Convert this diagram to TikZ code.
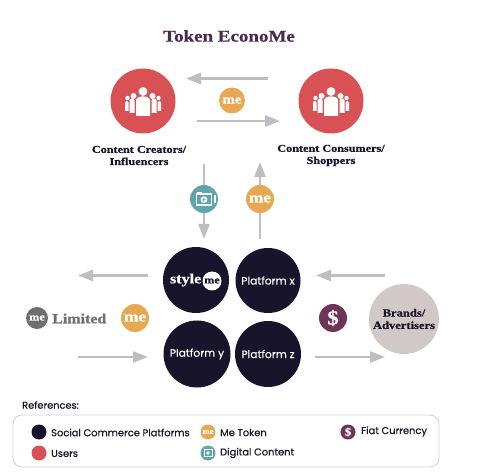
\documentclass[tikz,border=0pt]{standalone}
\usepackage{fontspec}
\setmainfont{Liberation Serif}
\newfontfamily\psans[FakeBold=0.35]{Poppins}
\newfontfamily\fatf[UprightFont=* Bold,FakeStretch=1.15,FakeBold=0.6]{Liberation Serif}
\usetikzlibrary{arrows.meta}
\definecolor{navy}{HTML}{17142B}
\definecolor{redc}{HTML}{D85155}
\definecolor{gold}{HTML}{E6A853}
\definecolor{plum}{HTML}{6E3559}
\definecolor{teal2}{HTML}{5FA5AE}
\definecolor{arrowg}{HTML}{BDBEC4}
\definecolor{beige}{HTML}{D1C8C8}
\definecolor{greyc}{HTML}{6F6E73}
\definecolor{titlec}{HTML}{4A2A4E}
\tikzset{
  x=1pt,y=-1pt,
  dot/.style={circle,inner sep=0pt,minimum size=#1},
  flow/.style={draw=arrowg,line width=2.6pt,-{Triangle[length=15pt,width=11pt]}},
  fat/.style={font=\fatf\fontsize{#1}{#1}\selectfont,text=navy,align=center,inner sep=0pt},
  fat/.default=10.6,
  sanslab/.style={font=\psans\fontsize{#1}{#1}\selectfont,inner sep=0pt},
  leg/.style={font=\psans\fontsize{9.9}{11}\selectfont,text=navy,anchor=west,inner sep=0pt},
  metext/.style={font=\fatf\fontsize{#1}{#1}\selectfont,text=white,inner sep=0pt},
  people/.pic={
    \fill[white] (-18,9.5) -- (-18,1) .. controls (-18,-1.5) and (-14.5,-1.5) .. (-14.5,1) -- (-14.5,9.5) -- cycle;
    \fill[white] (18,9.5) -- (18,1) .. controls (18,-1.5) and (14.5,-1.5) .. (14.5,1) -- (14.5,9.5) -- cycle;
    \fill[white] (-15.5,-3.5) circle (2.2);
    \fill[white] (15.5,-3.5) circle (2.2);
    \fill[white] (-13.5,11.5) -- (-13.5,-1) .. controls (-13.5,-3.5) and (-9,-3.5) .. (-8.5,-1) -- (-8.5,11.5) -- cycle;
    \fill[white] (13.5,11.5) -- (13.5,-1) .. controls (13.5,-3.5) and (9,-3.5) .. (8.5,-1) -- (8.5,11.5) -- cycle;
    \fill[white] (-9.5,-5.5) circle (3);
    \fill[white] (9.5,-5.5) circle (3);
    \fill[white] (-7,14.5) -- (-7,-1) .. controls (-7,-6.5) and (7,-6.5) .. (7,-1) -- (7,14.5) -- cycle;
    \fill[white] (0,-10) circle (4.4);
  },
  camera/.pic={
    \draw[white,line width=1.2pt] (-7.5,-5) rectangle (7.5,6);
    \fill[white] (-7.5,-6.5) rectangle (-2,-5);
    \fill[white] (0,0.7) circle (3.4);
    \fill[teal2] (-1.2,-1) -- (1.6,0.7) -- (-1.2,2.4) -- cycle;
    \fill[white] (9.7,-3.5) rectangle (12,4.5);
  }
}
\begin{document}
\begin{tikzpicture}
\useasboundingbox (0,0) rectangle (485,473);
\fill[white] (0,0) rectangle (485,473);
\node[font=\fatf\fontsize{16.5}{16.5}\selectfont,text=titlec,inner sep=0pt] (title) at (229,36) {Token EconoMe};

% arrow end points
\coordinate (t1s) at (268,78.5); \coordinate (t1e) at (186,78.5);
\coordinate (t2s) at (197,121);  \coordinate (t2e) at (280,121);
\coordinate (v1s) at (204,164);  \coordinate (v1e) at (204,239);
\coordinate (v2s) at (260,239);  \coordinate (v2e) at (260,162);
\coordinate (l1s) at (148,275.5); \coordinate (l1e) at (78,275.5);
\coordinate (l2s) at (78,357);   \coordinate (l2e) at (148,357);
\coordinate (r1s) at (385,275.5); \coordinate (r1e) at (316,275.5);
\coordinate (r2s) at (315,357);  \coordinate (r2e) at (385,357);
\draw[flow] (t1s) -- (t1e);
\draw[flow] (t2s) -- (t2e);
\draw[flow] (v1s) -- (v1e);
\draw[flow] (v2s) -- (v2e);
\draw[flow] (l1s) -- (l1e);
\draw[flow] (l2s) -- (l2e);
\draw[flow] (r1s) -- (r1e);
\draw[flow] (r2s) -- (r2e);

% users
\node[dot=65pt,fill=redc] (creators) at (143,101) {};
\node[dot=65pt,fill=redc] (consumers) at (331,101) {};
\pic at (143,101.5) {people};
\pic at (331,101.5) {people};
\node[fat] (creatorsl) at (139,155.5) {Content Creators/\\[1.5pt]Influencers};
\node[fat] (consumersl) at (331,155.5) {Content Consumers/\\[1.5pt]Shoppers};

% tokens
\node[dot=26pt,fill=gold,metext=13] (me1) at (232,100.5) {me};
\node[dot=28pt,fill=teal2] (cam) at (204,199) {};
\pic at (204,199) {camera};
\node[dot=28pt,fill=gold,metext=15] (me2) at (260,199) {me};
\node[dot=28pt,fill=gold,metext=15] (me3) at (135,318) {me};
\node[dot=28pt,fill=plum,metext=20] (usd) at (333,318) {\$};

% platforms
\node[dot=66pt,fill=navy] (style) at (196,280) {};
\node[font=\fatf\fontsize{14}{14}\selectfont,text=white,inner sep=0pt,anchor=east] (stylet) at (201.5,280) {style};
\node[dot=19pt,fill=white,font=\fatf\fontsize{10.5}{10.5}\selectfont,text=navy] (stylem) at (212,281) {me};
\node[dot=65pt,fill=navy,sanslab=10.7,text=white] (px) at (268,280.5) {Platform x};
\node[dot=67pt,fill=navy,sanslab=10.7,text=white] (py) at (197,354) {Platform y};
\node[dot=66pt,fill=navy,sanslab=10.7,text=white] (pz) at (268,354) {Platform z};

% me limited
\node[dot=22pt,fill=greyc,metext=10.7] (melim) at (37,318) {me};
\node[font=\fatf\fontsize{13.9}{13.9}\selectfont,text=greyc,inner sep=0pt,anchor=west] (limited) at (52,318.5) {Limited};

% brands
\node[dot=70pt,fill=beige,fat=10.9] (brands) at (404,319) {Brands/\\[1.5pt]Advertisers};

% legend
\node[font=\psans\fontsize{9.8}{11}\selectfont,text=navy,anchor=west,inner sep=0pt] (refs) at (22,405) {References:};
\draw[draw=beige!85!white,line width=0.8pt,rounded corners=9pt,fill=white] (13,415) rectangle (439,467);
\node[dot=15pt,fill=navy] (k1) at (39,432) {};
\node[leg] (k1l) at (51,432.5) {Social Commerce Platforms};
\node[dot=15pt,fill=redc] (k2) at (39,453) {};
\node[leg] (k2l) at (51,453.5) {Users};
\node[dot=15pt,fill=gold,metext=7.5] (k3) at (208,432) {me};
\node[leg] (k3l) at (220,432.5) {Me Token};
\node[dot=15pt,fill=teal2] (k4) at (208,453) {};
\draw[white,line width=0.9pt] (204,449.5) rectangle (212,456.5);
\fill[white] (208,453) circle (1.8);
\node[leg] (k4l) at (220,453) {Digital Content};
\node[dot=15pt,fill=plum,metext=11] (k5) at (348,432) {\$};
\node[leg] (k5l) at (361,431.5) {Fiat Currency};
\end{tikzpicture}
\end{document}
